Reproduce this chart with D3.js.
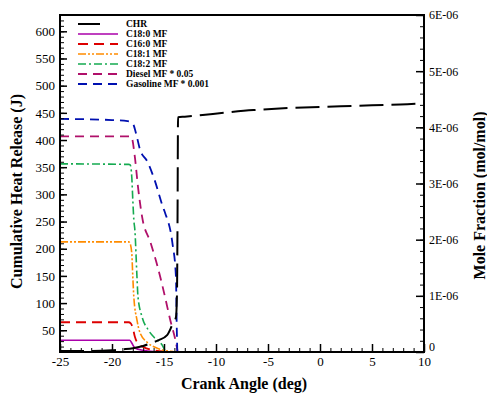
<!DOCTYPE html>
<html><head><meta charset="utf-8">
<script src="https://cdn.jsdelivr.net/npm/d3@7"></script>
<style>body{margin:0;background:#fff}svg{display:block}svg text{font-family:"Liberation Serif","Times New Roman",serif !important}</style>
</head><body><svg id="c" width="487" height="394"></svg>
<script>
// ---- data ----
const xTicks = [-25,-20,-15,-10,-5,0,5,10];
const leftTicks = [50,100,150,200,250,300,350,400,450,500,550,600];
const rightTicks = [0,1e-6,2e-6,3e-6,4e-6,5e-6,6e-6];
const rightTickLabels = ["0","1E-06","2E-06","3E-06","4E-06","5E-06","6E-06"];

const chrAngle = [-25,-22,-20,-18.9,-18,-17,-16.3,-15.5,-14.7,-14.2,-13.85,-13.75,-13.7,-13.65,-13,-10.3,-6.4,-2.9,2,5,8.4,10];
const chrJ     = [12,12,13,15,17,21,26,32,41,60,74,120,250,442,443,448,455,459,462,464,466,468];

const gasAngle = [-25,-20,-18.5,-18,-17.7,-17.3,-16.6,-15.9,-15.1,-14.9,-14.2,-13.85,-13.78,-13.72];
const gasMF    = [4.15e-6,4.13e-6,4.11e-6,4.07e-6,3.90e-6,3.60e-6,3.39e-6,3.06e-6,2.58e-6,2.48e-6,1.95e-6,1.34e-6,0.5e-6,0];

const dslAngle = [-25,-18.2,-18.1,-17.8,-17.5,-17.1,-16.3,-15.6,-14.9,-14.4,-13.9,-13.7];
const dslMF    = [3.84e-6,3.84e-6,3.82e-6,3.47e-6,2.94e-6,2.40e-6,1.95e-6,1.51e-6,0.98e-6,0.57e-6,0.21e-6,0.02e-6];

const c182Angle = [-25,-18.4,-18.25,-18.1,-18.0,-17.9,-17.8,-17.6,-17.5,-17.1,-16.5,-15.9,-15.2,-14.9];
const c182MF    = [3.35e-6,3.34e-6,3.33e-6,3.12e-6,2.71e-6,2.35e-6,2.17e-6,1.34e-6,0.98e-6,0.62e-6,0.39e-6,0.25e-6,0.13e-6,0.02e-6];

const c181Angle = [-25,-18.4,-18.3,-18.1,-18.0,-17.9,-17.6,-17.3,-16.6,-15.7,-14.7,-14.1];
const c181MF    = [1.96e-6,1.96e-6,1.95e-6,1.76e-6,1.34e-6,0.98e-6,0.57e-6,0.34e-6,0.17e-6,0.07e-6,0.02e-6,0.01e-6];

const c160Angle = [-25,-18.4,-18.2,-18.0,-17.8,-17.5,-17.0,-16.0,-15.0];
const c160MF    = [0.53e-6,0.53e-6,0.51e-6,0.43e-6,0.27e-6,0.15e-6,0.09e-6,0.03e-6,0.01e-6];

const c180Angle = [-25,-18.3,-18.1,-17.8,-17.0,-16.0,-15.0];
const c180MF    = [0.21e-6,0.21e-6,0.16e-6,0.07e-6,0.03e-6,0.01e-6,0.005e-6];

const legendLabels = ["CHR","C18:0 MF","C16:0 MF","C18:1 MF","C18:2 MF","Diesel MF * 0.05","Gasoline  MF * 0.001"];

// ---- chart ----
const FONT = "'Liberation Serif', 'Times New Roman', serif";
const L=60,R=424,T=15,B=352;
const svg=d3.select("#c");
const x=d3.scaleLinear().domain([-25,10]).range([L,R]);
const yL=d3.scaleLinear().domain([10,630]).range([B,T]);
const yR=d3.scaleLinear().domain([0,6e-6]).range([B,T]);

const series=[
 {a:c180Angle,v:c180MF,col:"#aa00aa",dash:null,w:1.6,s:yR},
 {a:c160Angle,v:c160MF,col:"#dd0000",dash:"10,6",w:1.8,s:yR},
 {a:c181Angle,v:c181MF,col:"#ff8c00",dash:"8,2,2,2,2,2",w:1.6,s:yR},
 {a:c182Angle,v:c182MF,col:"#15aa50",dash:"8,3,2,3",w:1.6,s:yR},
 {a:dslAngle,v:dslMF,col:"#b0106a",dash:"9,6",w:1.8,s:yR},
 {a:gasAngle,v:gasMF,col:"#0010b0",dash:"9,6",w:1.8,s:yR},
 {a:chrAngle,v:chrJ,col:"#000",dash:"24,8",w:2,s:yL}
];
const g=svg.append("g");
series.forEach(s=>{
  const pts=s.a.map((a,i)=>[a,s.v[i]]);
  const line=d3.line().x(d=>x(d[0])).y(d=>s.s(d[1])).curve(d3.curveMonotoneX);
  g.append("path").attr("d",line(pts)).attr("fill","none").attr("stroke",s.col)
   .attr("stroke-width",s.w).attr("stroke-dasharray",s.dash);
});

function styleTicks(a,size){
  a.attr("font-family",null);
  a.select(".domain").remove();
  a.selectAll("line").attr("stroke","#000").attr("stroke-width",1.5);
  a.selectAll("text").attr("font-size",size).attr("fill","#000").style("font-family",FONT);
}
function minor(a){a.select(".domain").remove();a.selectAll("line").attr("stroke","#000");}

const ax=svg.append("g");
// bottom
ax.append("g").attr("transform",`translate(0,${B})`).call(d3.axisBottom(x).tickValues(d3.range(-25,11,1)).tickSize(-4).tickFormat("")).call(minor);
ax.append("g").attr("transform",`translate(0,${B})`).call(d3.axisBottom(x).tickValues(xTicks).tickSize(-8).tickPadding(5).tickFormat(d=>d))
  .call(a=>styleTicks(a,13));
// left
ax.append("g").attr("transform",`translate(${L},0)`).call(d3.axisLeft(yL).tickValues(d3.range(20,631,10)).tickSize(-4).tickFormat("")).call(minor);
ax.append("g").attr("transform",`translate(${L},0)`).call(d3.axisLeft(yL).tickValues(leftTicks).tickSize(-7).tickPadding(5).tickFormat(d=>d))
  .call(a=>styleTicks(a,13));
// right
ax.append("g").attr("transform",`translate(${R},0)`).call(d3.axisRight(yR).tickValues(d3.range(0,31,1).map(i=>i*0.2e-6)).tickSize(-4).tickFormat("")).call(minor);
ax.append("g").attr("transform",`translate(${R},0)`).call(d3.axisRight(yR).tickValues(rightTicks).tickSize(-8).tickPadding(5).tickFormat((d,i)=>rightTickLabels[i]))
  .call(a=>{styleTicks(a,12);
    a.selectAll(".tick").filter(d=>d===0).select("text").attr("dy","-0.15em");});
// frame
svg.append("rect").attr("x",L).attr("y",T).attr("width",R-L).attr("height",B-T).attr("fill","none").attr("stroke","#000").attr("stroke-width",2);

// axis titles
const title=(tr,t)=>svg.append("text").attr("transform",tr).attr("text-anchor","middle").attr("font-size",16).attr("font-weight","bold").style("font-family",FONT).text(t);
title(`translate(${(L+R)/2+2},389)`,"Crank Angle (deg)");
title(`translate(22,${(T+B)/2+8}) rotate(-90)`,"Cumulative Heat Release (J)");
title(`translate(485,${(T+B)/2+12}) rotate(-90)`,"Mole Fraction (mol/mol)");

// legend
const lg=svg.append("g");
const legSeries=[series[6],series[0],series[1],series[2],series[3],series[4],series[5]];
legendLabels.forEach((lab,i)=>{
  const yy=24+i*10;
  const s=legSeries[i];
  lg.append("line").attr("x1",78).attr("x2",i===0?100:118).attr("y1",yy).attr("y2",yy)
    .attr("stroke",s.col).attr("stroke-width",s.w).attr("stroke-dasharray",i===0?null:s.dash);
  lg.append("text").attr("x",126).attr("y",yy).attr("dy","0.33em").attr("font-size",9.5).attr("font-weight","bold").style("font-family",FONT).text(lab);
});
</script></body></html>
